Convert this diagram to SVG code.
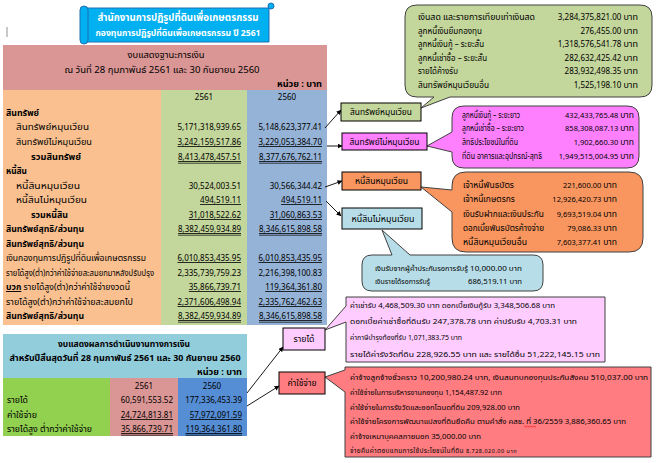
<svg xmlns="http://www.w3.org/2000/svg" width="659" height="463" viewBox="0 0 659 463">
<style>
text{font-family:Tahoma,"Noto Sans Thai","Noto Sans","DejaVu Sans",sans-serif;font-size:8px;fill:#000}
.th{font-size:9.5px}
.b{font-weight:bold}
.r{text-anchor:end}
.m{text-anchor:middle}
.u{text-decoration:underline}
.s9{font-size:9px}
.s85{font-size:8.5px}
.s75{font-size:7.5px}
.s7{font-size:7px}
.s65{font-size:6.5px}
.box{stroke:#000;stroke-width:1}
.co{stroke:#404040;stroke-width:1}
.dl{stroke:#000;stroke-width:0.7}
.cn{stroke:#1a1a1a;stroke-width:1;fill:none;marker-end:url(#ah)}
</style>
<defs>
<marker id="ah" viewBox="0 0 10 10" refX="9" refY="5" markerWidth="5" markerHeight="5" orient="auto" markerUnits="userSpaceOnUse"><path d="M0,0 L10,5 L0,10 Z" fill="#000"/></marker>
</defs>
<rect width="659" height="463" fill="#fff"/>
<line x1="7" y1="27" x2="7" y2="37" stroke="#777" stroke-width="0.8"/>

<g id="title">
<path d="M84,8 H269 V42 H84 Z" fill="#00b0f0" stroke="#1f6fb5" stroke-width="1"/>
<path d="M80,10 Q80,6 84,6 Q88,6 88,10 V40 Q88,44 84,44 Q80,44 80,40 Z" fill="#00b0f0" stroke="#1f6fb5" stroke-width="1"/>
<circle cx="271" cy="6" r="3" fill="#00b0f0" stroke="#1f6fb5" stroke-width="1"/>
<text x="178" y="21" class="m b" style="font-size:10.5px;fill:#fff" textLength="161" lengthAdjust="spacingAndGlyphs">สำนักงานการปฏิรูปที่ดินเพื่อเกษตรกรรม</text>
<text x="178" y="36" class="m b" style="font-size:8.5px;fill:#fff" textLength="165" lengthAdjust="spacingAndGlyphs">กองทุนการปฏิรูปที่ดินเพื่อเกษตรกรรม  ปี 2561</text>
</g>

<g id="balance-sheet">
<rect x="3" y="45" width="324" height="45" fill="#da9694"/>
<rect x="3" y="90" width="158" height="235" fill="#fac090"/>
<rect x="161" y="90" width="86" height="235" fill="#c3d69b"/>
<rect x="247" y="90" width="80" height="235" fill="#95b3d7"/>
<text x="166" y="58" class="m th" textLength="77" lengthAdjust="spacingAndGlyphs">งบแสดงฐานะการเงิน</text>
<text x="162" y="73" class="m s9" textLength="195" lengthAdjust="spacingAndGlyphs">ณ  วันที่ 28 กุมภาพันธ์ 2561 และ 30 กันยายน 2560</text>
<text x="322" y="87" class="r b th" textLength="45" lengthAdjust="spacingAndGlyphs">หน่วย : บาท</text>
<text x="204" y="100" class="m">2561</text>
<text x="287" y="100" class="m">2560</text>

<text x="6" y="116" class="b th" textLength="33" lengthAdjust="spacingAndGlyphs">สินทรัพย์</text>
<text x="16" y="130" class="th" textLength="73" lengthAdjust="spacingAndGlyphs">สินทรัพย์หมุนเวียน</text>
<text x="241" y="130" class="r">5,171,318,939.65</text>
<text x="322" y="130" class="r">5,148,623,377.41</text>
<text x="16" y="145" class="th" textLength="76" lengthAdjust="spacingAndGlyphs">สินทรัพย์ไม่หมุนเวียน</text>
<text x="241" y="145" class="r u">3,242,159,517.86</text>
<text x="322" y="145" class="r u">3,229,053,384.70</text>
<text x="31" y="160" class="b th" textLength="50" lengthAdjust="spacingAndGlyphs">รวมสินทรัพย์</text>
<text x="241" y="160" class="r u" textLength="63" lengthAdjust="spacingAndGlyphs">8,413,478,457.51</text>
<text x="322" y="160" class="r u" textLength="63" lengthAdjust="spacingAndGlyphs">8,377,676,762.11</text>
<text x="6" y="174" class="b th" textLength="21" lengthAdjust="spacingAndGlyphs">หนี้สิน</text>
<text x="16" y="189" class="th" textLength="64" lengthAdjust="spacingAndGlyphs">หนี้สินหมุนเวียน</text>
<text x="241" y="189" class="r">30,524,003.51</text>
<text x="322" y="189" class="r">30,566,344.42</text>
<text x="16" y="203" class="th" textLength="71" lengthAdjust="spacingAndGlyphs">หนี้สินไม่หมุนเวียน</text>
<text x="241" y="203" class="r u">494,519.11</text>
<text x="322" y="203" class="r u">494,519.11</text>
<text x="31" y="218" class="b th" textLength="37" lengthAdjust="spacingAndGlyphs">รวมหนี้สิน</text>
<text x="241" y="218" class="r u">31,018,522.62</text>
<text x="322" y="218" class="r u">31,060,863.53</text>
<text x="6" y="232" class="b th" textLength="78" lengthAdjust="spacingAndGlyphs">สินทรัพย์สุทธิ/ส่วนทุน</text>
<text x="241" y="232" class="r u" textLength="63" lengthAdjust="spacingAndGlyphs">8,382,459,934.89</text>
<text x="322" y="232" class="r u" textLength="63" lengthAdjust="spacingAndGlyphs">8,346,615,898.58</text>
<text x="6" y="247" class="b th" textLength="78" lengthAdjust="spacingAndGlyphs">สินทรัพย์สุทธิ/ส่วนทุน</text>
<text x="6" y="261" class="th" textLength="140" lengthAdjust="spacingAndGlyphs">เงินกองทุนการปฏิรูปที่ดินเพื่อเกษตรกรรม</text>
<text x="241" y="261" class="r u">6,010,853,435.95</text>
<text x="322" y="261" class="r u">6,010,853,435.95</text>
<text x="6" y="276" class="s85" textLength="148" lengthAdjust="spacingAndGlyphs">รายได้สูง(ต่ำ)กว่าค่าใช้จ่ายสะสมยกมาหลังปรับปรุง</text>
<text x="241" y="276" class="r">2,335,739,759.23</text>
<text x="322" y="276" class="r">2,216,398,100.83</text>
<text x="6" y="290" class="th" textLength="124" lengthAdjust="spacingAndGlyphs"><tspan class="b u">บวก</tspan> รายได้สูง(ต่ำ)กว่าค่าใช้จ่ายงวดนี้</text>
<text x="241" y="290" class="r u">35,866,739.71</text>
<text x="322" y="290" class="r u">119,364,361.80</text>
<text x="6" y="305" class="th" textLength="127" lengthAdjust="spacingAndGlyphs">รายได้สูง(ต่ำ)กว่าค่าใช้จ่ายสะสมยกไป</text>
<text x="241" y="305" class="r u">2,371,606,498.94</text>
<text x="322" y="305" class="r u">2,335,762,462.63</text>
<text x="6" y="319" class="b th" textLength="78" lengthAdjust="spacingAndGlyphs">สินทรัพย์สุทธิ/ส่วนทุน</text>
<text x="241" y="319" class="r u" textLength="63" lengthAdjust="spacingAndGlyphs">8,382,459,934.89</text>
<text x="322" y="319" class="r u" textLength="63" lengthAdjust="spacingAndGlyphs">8,346,615,898.58</text>
<g class="dl">
<line x1="178" y1="163.2" x2="241" y2="163.2"/><line x1="259" y1="163.2" x2="322" y2="163.2"/>
<line x1="178" y1="235.2" x2="241" y2="235.2"/><line x1="259" y1="235.2" x2="322" y2="235.2"/>
<line x1="178" y1="322.2" x2="241" y2="322.2"/><line x1="259" y1="322.2" x2="322" y2="322.2"/>
</g>
</g>

<g id="income-statement">
<rect x="3" y="334" width="244" height="44" fill="#92cddc"/>
<rect x="3" y="378" width="107" height="58" fill="#92d050"/>
<rect x="110" y="378" width="68" height="58" fill="#da9694"/>
<rect x="178" y="378" width="69" height="58" fill="#558ed5"/>
<text x="124" y="347" class="m b th" textLength="132" lengthAdjust="spacingAndGlyphs">งบแสดงผลการดำเนินงานทางการเงิน</text>
<text x="125" y="361" class="m b s9" textLength="231" lengthAdjust="spacingAndGlyphs">สำหรับปีสิ้นสุดวันที่  28 กุมภาพันธ์ 2561 และ 30 กันยายน 2560</text>
<text x="242" y="375" class="r b th" textLength="45" lengthAdjust="spacingAndGlyphs">หน่วย : บาท</text>
<text x="144" y="389" class="m">2561</text>
<text x="212" y="389" class="m">2560</text>
<text x="7" y="403" class="th" textLength="21" lengthAdjust="spacingAndGlyphs">รายได้</text>
<text x="173" y="403" class="r">60,591,553.52</text>
<text x="242" y="403" class="r">177,336,453.39</text>
<text x="7" y="418" class="th" textLength="30" lengthAdjust="spacingAndGlyphs">ค่าใช้จ่าย</text>
<text x="173" y="418" class="r u">24,724,813.81</text>
<text x="242" y="418" class="r u">57,972,091.59</text>
<text x="7" y="432" class="th" textLength="85" lengthAdjust="spacingAndGlyphs">รายได้สูง ต่ำกว่าค่าใช้จ่าย</text>
<text x="173" y="432" class="r u" textLength="52" lengthAdjust="spacingAndGlyphs">35,866,739.71</text>
<text x="242" y="432" class="r u" textLength="56.5" lengthAdjust="spacingAndGlyphs">119,364,361.80</text>
<g class="dl">
<line x1="121" y1="435.2" x2="173" y2="435.2"/><line x1="185.5" y1="435.2" x2="242" y2="435.2"/>
</g>
</g>

<g id="connectors">
<line class="cn" x1="325" y1="128" x2="341" y2="110"/>
<line class="cn" x1="327" y1="146" x2="342" y2="146"/>
<line class="cn" x1="325" y1="187" x2="342" y2="181"/>
<line class="cn" x1="326" y1="201" x2="341" y2="216"/>
<line class="cn" x1="247" y1="393" x2="283" y2="347"/>
<line class="cn" x1="247" y1="406" x2="279" y2="386"/>
</g>

<g id="callout-current-assets">
<path class="co" fill="#c3d69b" d="M417,5 H640 Q652,5 652,17 V85 Q652,97 640,97 H450 L421,108 L434,97 H417 Q405,97 405,85 V17 Q405,5 417,5 Z"/>
<text x="418" y="20" class="s9" textLength="117" lengthAdjust="spacingAndGlyphs">เงินสด และรายการเทียบเท่าเงินสด</text><text x="638" y="20" class="r">3,284,375,821.00 <tspan class="s9">บาท</tspan></text>
<text x="418" y="34" class="s9" textLength="64" lengthAdjust="spacingAndGlyphs">ลูกหนี้เงินยืมกองทุน</text><text x="638" y="34" class="r">276,455.00 <tspan class="s9">บาท</tspan></text>
<text x="418" y="47" class="s9" textLength="66" lengthAdjust="spacingAndGlyphs">ลูกหนี้เงินกู้ – ระยะสั้น</text><text x="638" y="47" class="r">1,318,576,541.78 <tspan class="s9">บาท</tspan></text>
<text x="418" y="61" class="s9" textLength="69" lengthAdjust="spacingAndGlyphs">ลูกหนี้เช่าซื้อ – ระยะสั้น</text><text x="638" y="61" class="r">282,632,425.42 <tspan class="s9">บาท</tspan></text>
<text x="418" y="74" class="s9" textLength="40" lengthAdjust="spacingAndGlyphs">รายได้ค้างรับ</text><text x="638" y="74" class="r">283,932,498.35 <tspan class="s9">บาท</tspan></text>
<text x="418" y="88" class="s9" textLength="71" lengthAdjust="spacingAndGlyphs">สินทรัพย์หมุนเวียนอื่น</text><text x="638" y="88" class="r">1,525,198.10 <tspan class="s9">บาท</tspan></text>
</g>

<g id="callout-noncurrent-assets">
<path class="co" fill="#ff80ff" d="M464,106 H627 Q639,106 639,118 V156 Q639,168 627,168 H464 Q452,168 452,156 V152 L427,146 L452,132 V118 Q452,106 464,106 Z"/>
<text x="462" y="118" class="s85" textLength="58" lengthAdjust="spacingAndGlyphs">ลูกหนี้เงินกู้ – ระยะยาว</text><text x="634" y="118" class="r s75">432,433,765.48 <tspan class="s85">บาท</tspan></text>
<text x="462" y="131" class="s85" textLength="62" lengthAdjust="spacingAndGlyphs">ลูกหนี้เช่าซื้อ – ระยะยาว</text><text x="634" y="131" class="r s75">858,308,087.13 <tspan class="s85">บาท</tspan></text>
<text x="462" y="145" class="s85" textLength="56" lengthAdjust="spacingAndGlyphs">สิทธิประโยชน์ในที่ดิน</text><text x="634" y="145" class="r s75">1,902,660.30 <tspan class="s85">บาท</tspan></text>
<text x="462" y="159" class="s85" textLength="80" lengthAdjust="spacingAndGlyphs">ที่ดิน อาคารและอุปกรณ์-สุทธิ</text><text x="634" y="159" class="r s75">1,949,515,004.95 <tspan class="s85">บาท</tspan></text>
</g>

<g id="callout-current-liabilities">
<path class="co" fill="#f9965f" d="M466,172 H629 Q643,172 643,186 V238 Q643,252 629,252 H466 Q452,252 452,238 V212 L421,187 L452,190 V186 Q452,172 466,172 Z"/>
<text x="463" y="188" class="s85" textLength="51" lengthAdjust="spacingAndGlyphs">เจ้าหนี้พันธบัตร</text><text x="617" y="188" class="r s75">221,600.00 <tspan class="s85">บาท</tspan></text>
<text x="463" y="202" class="s85" textLength="52" lengthAdjust="spacingAndGlyphs">เจ้าหนี้เกษตรกร</text><text x="617" y="202" class="r s75">12,926,420.73 <tspan class="s85">บาท</tspan></text>
<text x="463" y="217" class="s85" textLength="81" lengthAdjust="spacingAndGlyphs">เงินรับฝากและเงินประกัน</text><text x="617" y="217" class="r s75">9,693,519.04 <tspan class="s85">บาท</tspan></text>
<text x="463" y="231" class="s85" textLength="81" lengthAdjust="spacingAndGlyphs">ดอกเบี้ยพันธบัตรค้างจ่าย</text><text x="617" y="231" class="r s75">79,086.33 <tspan class="s85">บาท</tspan></text>
<text x="463" y="245" class="s85" textLength="64" lengthAdjust="spacingAndGlyphs">หนี้สินหมุนเวียนอื่น</text><text x="617" y="245" class="r s75">7,603,377.41 <tspan class="s85">บาท</tspan></text>
</g>

<g id="callout-noncurrent-liabilities">
<path class="co" fill="#b7dee8" d="M372,255 H392 L382,230 L410,255 H533 Q543,255 543,265 V281 Q543,291 533,291 H372 Q362,291 362,281 V265 Q362,255 372,255 Z"/>
<text x="375" y="271" class="s65" textLength="93" lengthAdjust="spacingAndGlyphs">เงินรับจากผู้ค้ำประกันรอการรับรู้</text><text x="522" y="271" class="r s65" textLength="52" lengthAdjust="spacingAndGlyphs">10,000.00 บาท</text>
<text x="375" y="284" class="s65" textLength="55" lengthAdjust="spacingAndGlyphs">เงินรายได้รอการรับรู้</text><text x="522" y="284" class="r s65" textLength="54" lengthAdjust="spacingAndGlyphs">686,519.11 บาท</text>
</g>

<g id="callout-revenue">
<path class="co" fill="#ffccff" d="M346,297 H605 V362 H346 V322 L325,330 L346,306 Z"/>
<text x="350" y="308" class="s7" textLength="205" lengthAdjust="spacingAndGlyphs">ค่าเช่ารับ 4,468,509.30 บาท ดอกเบี้ยเงินกู้รับ 3,348,506.68 บาท</text>
<text x="350" y="324" class="s7" textLength="227" lengthAdjust="spacingAndGlyphs">ดอกเบี้ยค่าเช่าซื้อที่ดินรับ  247,378.78 บาท  ค่าปรับรับ  4,703.31 บาท</text>
<text x="350" y="340" class="s7" textLength="112" lengthAdjust="spacingAndGlyphs">ค่าภาษีบำรุงท้องที่รับ  1,071,383.75 บาท</text>
<text x="350" y="357" class="s7" textLength="250" lengthAdjust="spacingAndGlyphs">รายได้ค่ารังวัดที่ดิน  228,926.55 บาท และ รายได้อื่น 51,222,145.15 บาท</text>
</g>

<g id="callout-expense">
<path class="co" fill="#ff7c80" d="M345,367 H651 V457 H345 V392 L325,377 L345,370 Z"/>
<text x="350" y="380" class="s7" textLength="298" lengthAdjust="spacingAndGlyphs">ค่าจ้างลูกจ้างชั่วคราว 10,200,980.24 บาท, เงินสมทบกองทุนประกันสังคม 510,037.00 บาท</text>
<text x="350" y="395" class="s7" textLength="152" lengthAdjust="spacingAndGlyphs">ค่าใช้จ่ายในการบริหารงานกองทุน 1,154,487.92 บาท</text>
<text x="350" y="410" class="s7" textLength="170" lengthAdjust="spacingAndGlyphs">ค่าใช้จ่ายในการรังวัดและออกโฉนดที่ดิน 209,928.00 บาท</text>
<text x="350" y="424" class="s7" textLength="276" lengthAdjust="spacingAndGlyphs">ค่าใช้จ่ายโครงการพัฒนาแปลงที่ดินยึดคืน ตามคำสั่ง คสช. ที่ 36/2559  3,886,360.65 บาท</text>
<path d="M524,426.5 q0.75,-1.2 1.5,0 t1.5,0 t1.5,0 t1.5,0 t1.5,0 t1.5,0 t1.5,0 t1.5,0" fill="none" stroke="#e00" stroke-width="0.6"/>
<text x="350" y="439" class="s7" textLength="131" lengthAdjust="spacingAndGlyphs">ค่าจ้างเหมาบุคคลภายนอก 35,000.00 บาท</text>
<text x="350" y="453" class="s65" style="letter-spacing:0.35px">จ่ายคืนค่าตอบแทนการใช้ประโยชน์ในที่ดิน <tspan style="font-size:5.5px;letter-spacing:0.5px">8,728,020.00 บาท</tspan></text>
</g>

<g id="node-current-assets">
<rect class="box" x="341" y="103" width="80" height="18" fill="#c3d69b"/>
<text x="381" y="115" class="m s85" textLength="62" lengthAdjust="spacingAndGlyphs">สินทรัพย์หมุนเวียน</text>
</g>
<g id="node-noncurrent-assets">
<rect class="box" x="342" y="133" width="85" height="17" fill="#ff80ff"/>
<text x="384.5" y="144.5" class="m s85" textLength="70" lengthAdjust="spacingAndGlyphs">สินทรัพย์ไม่หมุนเวียน</text>
</g>
<g id="node-current-liabilities">
<rect class="box" x="342" y="172" width="79" height="18" fill="#f9965f"/>
<text x="381.5" y="184" class="m s85" textLength="53" lengthAdjust="spacingAndGlyphs">หนี้สินหมุนเวียน</text>
</g>
<g id="node-noncurrent-liabilities">
<rect class="box" x="342" y="208" width="80" height="21" fill="#b7dee8"/>
<text x="383" y="221.5" class="m s85" textLength="63" lengthAdjust="spacingAndGlyphs">หนี้สินไม่หมุนเวียน</text>
</g>
<g id="node-revenue">
<rect class="box" x="283" y="328" width="42" height="22" fill="#ffccff"/>
<text x="304" y="342" class="m s85" textLength="21" lengthAdjust="spacingAndGlyphs">รายได้</text>
</g>
<g id="node-expense">
<rect class="box" x="279" y="372" width="46" height="22" fill="#ff7c80"/>
<text x="302" y="386" class="m s85" textLength="29" lengthAdjust="spacingAndGlyphs">ค่าใช้จ่าย</text>
</g>
</svg>
